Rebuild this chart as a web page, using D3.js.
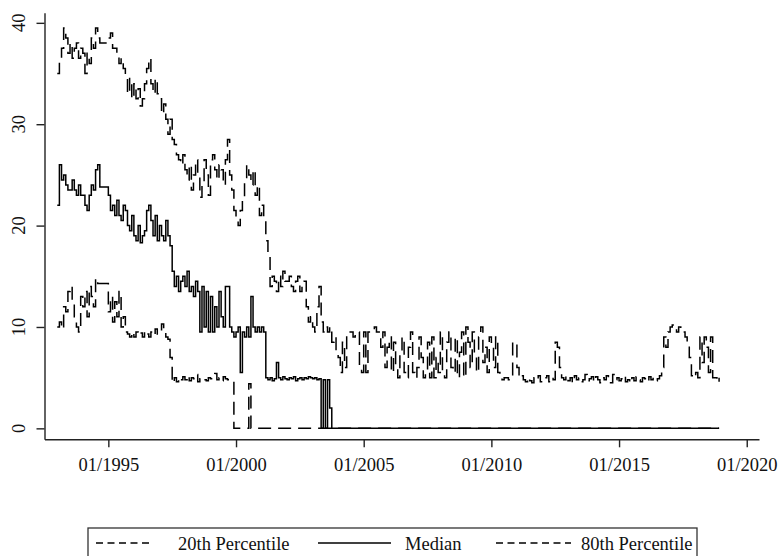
<!DOCTYPE html>
<html>
<head>
<meta charset="utf-8">
<script src="https://cdn.jsdelivr.net/npm/d3@7/dist/d3.min.js"></script>
<style>
  html, body { margin: 0; padding: 0; background: #fff; }
  svg { display: block; }
  text { font-family: "Liberation Serif", "Times New Roman", serif; fill: #111; }
</style>
</head>
<body>
<svg id="chart" width="783" height="556"></svg>
<script>
// Monthly data, 01/1993 .. 12/2018
const startYear = 1993;
const p20 = [
  10, 10.5, 9.8, 12, 11.5, 13.5, 14, 12.5, 11, 10, 9.5, 13,
  12, 13.5, 11, 14, 13, 12, 14.8, 14.3, 14.3, 14.3, 14.3, 14.3,
  11.5, 13, 10.5, 12.5, 11, 13.5, 10, 11, 9.5, 9.3, 9, 9.5,
  9, 9.5, 9.2, 9.4, 9, 9.6, 9.3, 9, 9.5, 9.2, 9.8, 9.3,
  9.4, 10.3, 9.5, 9, 8.8, 7, 4.5, 5, 4.6, 5, 4.8, 5.1,
  4.8, 5.2, 4.7, 5, 4.9, 5.3, 4.6, 4.9, 5, 4.8, 4.7, 5,
  4.9, 5.2, 5.4, 4.8, 5, 4.7, 5.1, 4.9, 4.8, 4.7, 4.7, 0,
  0, 0, 0, 0, 0, 0, 4.4, 0, 0, 0, 0, 0,
  0, 0, 0, 0, 0, 0, 0, 0, 0, 0, 0, 0,
  0, 0, 0, 0, 0, 0, 0, 0, 0, 0, 0, 0,
  0, 0, 0, 0, 0, 0, 0, 0, 0, 0, 0, 0,
  0, 0, 0, 0, 0, 0, 0, 0, 0, 0, 0, 0,
  0, 0, 0, 0, 0, 0, 0, 0, 0, 0, 0, 0,
  0, 0, 0, 0, 0, 0, 0, 0, 0, 0, 0, 0,
  0, 0, 0, 0, 0, 0, 0, 0, 0, 0, 0, 0,
  0, 0, 0, 0, 0, 0, 0, 0, 0, 0, 0, 0,
  0, 0, 0, 0, 0, 0, 0, 0, 0, 0, 0, 0,
  0, 0, 0, 0, 0, 0, 0, 0, 0, 0, 0, 0,
  0, 0, 0, 0, 0, 0, 0, 0, 0, 0, 0, 0,
  0, 0, 0, 0, 0, 0, 0, 0, 0, 0, 0, 0,
  0, 0, 0, 0, 0, 0, 0, 0, 0, 0, 0, 0,
  0, 0, 0, 0, 0, 0, 0, 0, 0, 0, 0, 0,
  0, 0, 0, 0, 0, 0, 0, 0, 0, 0, 0, 0,
  0, 0, 0, 0, 0, 0, 0, 0, 0, 0, 0, 0,
  0, 0, 0, 0, 0, 0, 0, 0, 0, 0, 0, 0,
  0, 0, 0, 0, 0, 0, 0, 0, 0, 0, 0, 0
];
const median = [
  22, 26, 24.5, 25, 24, 23.5, 23.5, 24.5, 23.5, 23, 24, 23,
  23, 22, 21.5, 23, 24, 23.5, 25.5, 26, 23.8, 23.8, 23.8, 23.8,
  23, 21.5, 22, 21, 22.5, 21, 20.5, 22, 21.5, 20, 19.5, 21,
  19, 18.5, 20, 18.3, 19, 19.5, 21.5, 22, 20.5, 19, 21, 18.5,
  20, 19, 18.5, 20.5, 19, 18, 15.5, 14, 15, 13.5, 14.5, 15,
  14, 15.5, 13.5, 14, 13, 14.5, 13.5, 9.5, 14, 10, 13.5, 9.5,
  13, 9.5, 12, 10, 13.5, 11, 10, 14, 14, 10, 9.5, 9,
  9.5, 10, 5.5, 9.5, 9, 10, 9, 13, 10, 9.5, 10, 9.5,
  10, 9.5, 5, 4.8, 5, 4.7, 4.9, 6.5, 5, 4.8, 5.1, 4.9,
  4.8, 5, 4.9, 5.1, 4.7, 4.9, 5, 4.8, 5, 4.9, 5.1, 5,
  4.9, 5, 4.8, 4.9, 0, 4.8, 0, 4.8, 2, 0, 0, 0,
  0, 0, 0, 0, 0, 0, 0, 0, 0, 0, 0, 0,
  0, 0, 0, 0, 0, 0, 0, 0, 0, 0, 0, 0,
  0, 0, 0, 0, 0, 0, 0, 0, 0, 0, 0, 0,
  0, 0, 0, 0, 0, 0, 0, 0, 0, 0, 0, 0,
  0, 0, 0, 0, 0, 0, 0, 0, 0, 0, 0, 0,
  0, 0, 0, 0, 0, 0, 0, 0, 0, 0, 0, 0,
  0, 0, 0, 0, 0, 0, 0, 0, 0, 0, 0, 0,
  0, 0, 0, 0, 0, 0, 0, 0, 0, 0, 0, 0,
  0, 0, 0, 0, 0, 0, 0, 0, 0, 0, 0, 0,
  0, 0, 0, 0, 0, 0, 0, 0, 0, 0, 0, 0,
  0, 0, 0, 0, 0, 0, 0, 0, 0, 0, 0, 0,
  0, 0, 0, 0, 0, 0, 0, 0, 0, 0, 0, 0,
  0, 0, 0, 0, 0, 0, 0, 0, 0, 0, 0, 0,
  0, 0, 0, 0, 0, 0, 0, 0, 0, 0, 0, 0,
  0, 0, 0, 0, 0, 0, 0, 0, 0, 0, 0, 0
];
const p80 = [
  35, 36.5, 37.5, 39.5, 38.5, 37, 38, 36.5, 37.5, 38, 36.5, 37.5,
  37, 35, 37, 36, 38.5, 37.5, 39.5, 38.5, 38, 38, 38, 38,
  38.5, 39, 37.5, 37.5, 37, 36, 36.5, 35.5, 34.5, 33, 34.5, 32.5,
  34, 32.5, 33.5, 31.8, 32.5, 34, 35.5, 36.5, 34, 33, 34.5, 33,
  32.5, 31, 32, 30.5, 29, 30.5, 28.5, 28, 27, 26.5, 26, 27,
  25.5, 24.5, 26, 23.5, 25, 26.5, 25, 22.8, 24, 26.5, 25, 23,
  26.5, 27, 25.5, 24.5, 26, 25.5, 24, 26.5, 28.5, 25, 23.5, 21.5,
  20.5, 20, 21.5, 22.5, 24.5, 26, 25, 24, 25.5, 23, 24, 21,
  22, 20.5, 18.5, 17, 14, 15, 14.5, 13.5, 15, 14, 15.5, 14.5,
  14.5, 15, 14, 13.5, 14.5, 15, 13.5, 14, 14.5, 12, 10.5, 11,
  10, 9.5, 12, 14, 10.5, 9.5, 10, 9.5, 10, 8.5, 9, 7.5,
  7, 5.5, 8.5, 6, 9.5, 9.5, 9.5, 9, 9.5, 9.5, 6, 5.5,
  9.5, 5.5, 9.5, 9.5, 9.5, 10, 9.5, 9.5, 8, 9.5, 6, 8,
  9, 5.5, 8.5, 6, 5, 7.5, 9, 5.5, 5, 8, 9.5, 5.5,
  5, 6, 9, 7, 5, 5.5, 8.5, 5, 9, 5, 7, 5.5,
  9.5, 5.5, 5, 8.5, 9.5, 6, 5.5, 9, 5, 7.5, 9.5, 5,
  10, 8.5, 6, 9.5, 7, 5.5, 9, 10, 6.5, 8, 5.5, 9,
  8.5, 6, 9, 5.5, 5, 4.8, 5, 5, 4.8, 5, 8.5, 8.5,
  6, 5, 5.2, 4.8, 4.6, 5, 4.7, 4.5, 5, 4.8, 5.2, 4.6,
  4.8, 5, 5.2, 4.6, 5, 4.8, 8.5, 8, 6, 5, 4.8, 5.2,
  4.7, 5, 4.5, 5.2, 4.8, 5, 4.6, 4.8, 5.3, 4.7, 4.9, 5.1,
  4.6, 5.1, 4.8, 4.5, 5, 4.8, 5.2, 4.7, 4.5, 5.3, 4.8, 5,
  4.7, 4.9, 5.2, 4.6, 4.8, 4.5, 5, 4.7, 5.1, 4.8, 4.6, 5,
  4.9, 4.6, 5.1, 4.8, 5, 4.7, 4.9, 5.2, 6, 9, 8, 9.5,
  10, 10.2, 9.8, 9.5, 10, 9.5, 9.5, 9, 8.5, 7, 5.2, 5,
  5.5, 5, 9, 6.5, 9, 8, 5.5, 9, 5, 5, 4.5, 5
];
const seriesNames = ["20th Percentile", "Median", "80th Percentile"];
const xTickYears = [1995, 2000, 2005, 2010, 2015, 2020];
const xTickLabels = ["01/1995", "01/2000", "01/2005", "01/2010", "01/2015", "01/2020"];
const yTicks = [0, 10, 20, 30, 40];

const svg = d3.select("#chart");
const x = d3.scaleLinear().domain([1992.5, 2020.48]).range([44.5, 759]);
const y = d3.scaleLinear().domain([-1.08, 41.0]).range([439.3, 12.7]);

const toPts = arr => arr.map((v, i) => [startYear + i / 12, v]);
const line = d3.line().x(d => x(d[0])).y(d => y(d[1])).curve(d3.curveStepAfter);

const styles = [
  { data: p20, dash: "13 7" },
  { data: p80, dash: "13 7" },
  { data: median, dash: null }
];
styles.forEach(s => {
  svg.append("path")
    .datum(toPts(s.data))
    .attr("d", line)
    .attr("fill", "none")
    .attr("stroke", "#000")
    .attr("stroke-width", 1.5)
    .attr("stroke-dasharray", s.dash);
});

// Axes
const yAxis = svg.append("g").attr("transform", "translate(44.5,0)")
  .call(d3.axisLeft(y).tickValues(yTicks).tickSize(8).tickSizeOuter(0).tickFormat(""));
yAxis.selectAll(".tick text").remove();
svg.append("g").selectAll("text.ylab")
  .data(yTicks)
  .join("text")
  .attr("class", "ylab")
  .attr("x", 0).attr("y", 0)
  .attr("text-anchor", "middle")
  .attr("transform", d => "matrix(0,-1,1,0,25," + y(d).toFixed(1) + ")")
  .style("transform", d => "matrix(0,-1,1,0,25," + y(d).toFixed(1) + ")")
  .style("font-size", "18.5px")
  .text(d => d3.format("d")(d));

const xAxis = svg.append("g").attr("transform", "translate(0,439.3)")
  .call(d3.axisBottom(x).tickValues(xTickYears).tickSize(8).tickSizeOuter(0)
    .tickFormat((d, i) => xTickLabels[i]));
xAxis.selectAll("text").attr("y", 31.7).attr("dy", null)
  .style("font-size", "18.5px");

[yAxis, xAxis].forEach(a => {
  a.attr("font-family", null).attr("font-size", null);
  a.select(".domain").attr("stroke", "#222").attr("stroke-width", 1.4);
  a.selectAll(".tick line").attr("stroke", "#222").attr("stroke-width", 1.4);
});

// Legend
const lg = svg.append("g");
lg.append("rect").attr("x", 88).attr("y", 528).attr("width", 609).attr("height", 60)
  .attr("fill", "none").attr("stroke", "#333").attr("stroke-width", 1.3);
const items = [
  { name: seriesNames[0], x0: 96, x1: 150, tx: 178, dash: "7 4.5" },
  { name: seriesNames[1], x0: 318, x1: 391, tx: 405, dash: null },
  { name: seriesNames[2], x0: 496, x1: 571, tx: 581, dash: "7 4.5" }
];
items.forEach(it => {
  lg.append("line").attr("x1", it.x0).attr("x2", it.x1).attr("y1", 543).attr("y2", 543)
    .attr("stroke", "#000").attr("stroke-width", 1.3).attr("stroke-dasharray", it.dash);
  lg.append("text").attr("x", it.tx).attr("y", 550).style("font-size", "18.5px").text(it.name);
});
</script>
</body>
</html>
